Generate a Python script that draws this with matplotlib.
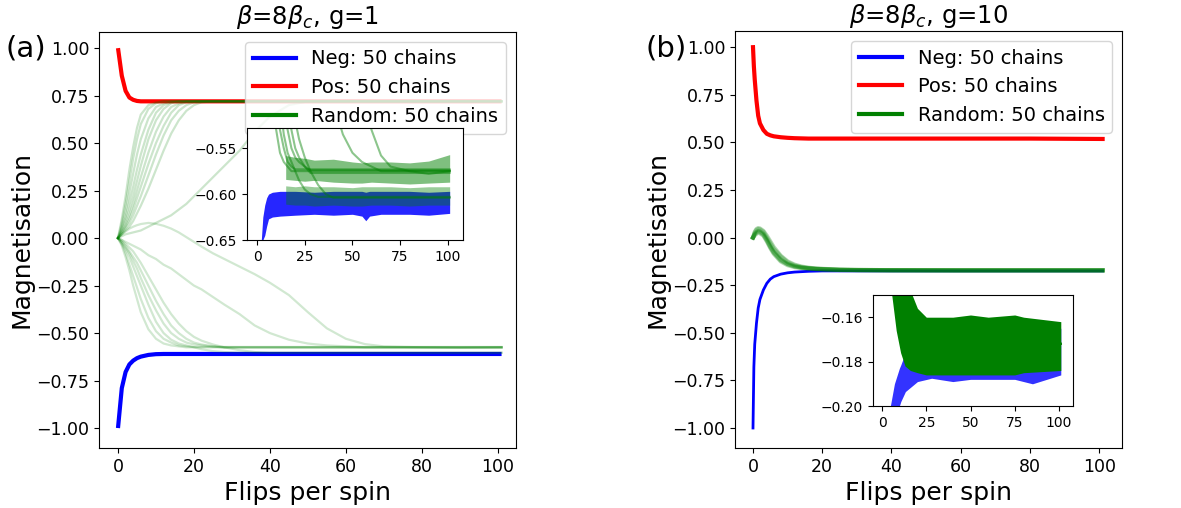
import matplotlib
matplotlib.use("Agg")
import matplotlib.pyplot as plt
import numpy as np

# ---------------- data: panel (a)  beta=8beta_c, g=1 ----------------
t_a = [0, 1, 2, 3, 4, 5, 6, 8, 10, 12, 14, 16, 18, 20, 22, 25, 28, 32, 36, 40,
       45, 50, 55, 60, 65, 70, 80, 90, 101]

neg_a = [-1.0, -0.79, -0.705, -0.665, -0.645, -0.632, -0.624, -0.615, -0.611, -0.61,
         -0.61, -0.61, -0.61, -0.61, -0.61, -0.61, -0.61, -0.61, -0.61, -0.61,
         -0.61, -0.61, -0.61, -0.61, -0.61, -0.61, -0.61, -0.61, -0.61]
pos_a = [1.0, 0.855, 0.775, 0.74, 0.728, 0.722, 0.72, 0.72, 0.72, 0.72,
         0.72, 0.72, 0.72, 0.72, 0.72, 0.72, 0.72, 0.72, 0.72, 0.72,
         0.72, 0.72, 0.72, 0.72, 0.72, 0.72, 0.72, 0.72, 0.72]

# random-start chains that end in the positive state
rand_pos_a = [
    [0, .10, .22, .36, .48, .58, .65, .70, .715, .72] + [.72] * 19,
    [0, .08, .18, .30, .42, .52, .60, .68, .71, .72] + [.72] * 19,
    [0, .06, .14, .24, .34, .44, .52, .63, .69, .71, .72] + [.72] * 18,
    [0, .05, .11, .19, .27, .36, .44, .57, .66, .70, .715, .72] + [.72] * 17,
    [0, .04, .09, .15, .22, .30, .38, .52, .62, .68, .71, .72] + [.72] * 17,
    [0, .03, .07, .12, .18, .25, .32, .45, .56, .64, .69, .71, .72] + [.72] * 16,
    [0, .03, .06, .10, .15, .21, .27, .39, .50, .59, .66, .70, .715, .72] + [.72] * 15,
    [0, .02, .05, .08, .12, .17, .22, .33, .44, .54, .62, .67, .70, .715, .72] + [.72] * 14,
    [0, .02, .04, .06, .09, .13, .17, .26, .36, .46, .55, .62, .67, .70, .715, .72] + [.72] * 13,
    [0, .01, .02, .025, .03, .035, .04, .06, .08, .10, .12, .15, .18, .22, .26, .32, .38,
     .46, .56, .64, .70, .72, .72, .72, .72, .72, .72, .72, .72],
]
# random-start chains that end in the negative state
rand_neg_a = [
    [0, -.04, -.10, -.17, -.25, -.32, -.39, -.48, -.53, -.555, -.565, -.57] + [-.575] * 17,
    [0, -.03, -.08, -.14, -.20, -.26, -.32, -.42, -.49, -.53, -.55, -.565, -.57] + [-.573] * 16,
    [0, -.03, -.06, -.10, -.15, -.20, -.25, -.35, -.44, -.50, -.535, -.555, -.565, -.575,
     -.585, -.595, -.60] + [-.603] * 12,
    [0, -.02, -.05, -.08, -.12, -.16, -.21, -.30, -.38, -.45, -.50, -.53, -.55, -.56, -.565,
     -.57] + [-.577] * 13,
    [0, -.02, -.04, -.07, -.10, -.13, -.17, -.25, -.33, -.40, -.46, -.50, -.53, -.55, -.56,
     -.57] + [-.574] * 13,
    [0, -.01, -.03, -.05, -.07, -.10, -.13, -.20, -.27, -.34, -.40, -.45, -.49, -.52, -.54,
     -.56, -.575, -.59, -.60] + [-.604] * 10,
    [0, -.01, -.02, -.03, -.04, -.05, -.06, -.09, -.11, -.14, -.16, -.19, -.22, -.25, -.27,
     -.31, -.35, -.40, -.46, -.50, -.535, -.555, -.565, -.57, -.575, -.575, -.575, -.575, -.575],
    [0, .02, .035, .05, .06, .068, .074, .08, .075, .065, .05, .03, .005, -.02, -.045,
     -.08, -.11, -.15, -.19, -.235, -.30, -.39, -.475, -.53, -.558, -.57, -.575, -.578, -.575],
]

# inset (a): envelopes of the noisy plateaus
ins_a_neg_t = [2.2, 3, 4, 5, 6, 8, 12, 20, 30, 40, 50, 55, 57, 59, 65, 80, 90, 101]
ins_a_neg_hi = [-0.65, -0.625, -0.612, -0.604, -0.600, -0.598, -0.597, -0.597, -0.598,
                -0.597, -0.597, -0.597, -0.598, -0.597, -0.597, -0.597, -0.598, -0.597]
ins_a_neg_lo = [-0.65, -0.65, -0.645, -0.635, -0.627, -0.625, -0.624, -0.623, -0.622,
                -0.623, -0.622, -0.624, -0.629, -0.624, -0.622, -0.622, -0.623, -0.621]
ins_a_grn_t = [15, 20, 25, 30, 40, 50, 55, 60, 70, 80, 90, 101]
ins_a_up_hi = [-0.558, -0.560, -0.561, -0.563, -0.562, -0.565, -0.566, -0.565, -0.565,
               -0.566, -0.564, -0.557]
ins_a_up_lo = [-0.584, -0.585, -0.586, -0.585, -0.587, -0.588, -0.588, -0.587, -0.588,
               -0.589, -0.588, -0.587]
ins_a_lo_hi = [-0.591, -0.592, -0.591, -0.592, -0.592, -0.593, -0.592, -0.592, -0.592,
               -0.593, -0.592, -0.592]
ins_a_lo_lo = [-0.611, -0.612, -0.612, -0.613, -0.612, -0.613, -0.613, -0.612, -0.612,
               -0.613, -0.612, -0.612]

# ---------------- data: panel (b)  beta=8beta_c, g=10 ----------------
t_b = [0, 0.25, 0.5, 1, 1.5, 2, 3, 4, 5, 6, 8, 10, 12, 14, 16, 18, 20, 25, 30, 40, 60, 80, 101]
neg_b = [-1.0, -0.68, -0.56, -0.45, -0.37, -0.325, -0.275, -0.24, -0.218, -0.205, -0.192,
         -0.185, -0.181, -0.179, -0.177, -0.176, -0.175, -0.175, -0.175, -0.175, -0.175,
         -0.175, -0.175]
pos_b = [1.0, 0.9, 0.83, 0.72, 0.64, 0.60, 0.565, 0.545, 0.537, 0.532, 0.527, 0.524,
         0.522, 0.521, 0.52, 0.52, 0.52, 0.52, 0.52, 0.52, 0.52, 0.52, 0.518]
rand_b = [
    [0, .015, .03, .045, .05, .048, .035, .01, -.02, -.05, -.095, -.125, -.142, -.152,
     -.158, -.162, -.164, -.168, -.17, -.171, -.172, -.172, -.172],
    [0, .01, .02, .03, .035, .033, .02, -.01, -.045, -.075, -.115, -.138, -.15, -.157,
     -.161, -.164, -.166, -.169, -.17, -.171, -.172, -.172, -.172],
    [0, .005, .012, .02, .025, .023, .01, -.02, -.055, -.085, -.125, -.145, -.155, -.16,
     -.163, -.165, -.167, -.17, -.171, -.172, -.172, -.172, -.172],
    [0, .012, .025, .04, .045, .043, .03, .0, -.03, -.06, -.10, -.13, -.146, -.155,
     -.16, -.163, -.165, -.169, -.17, -.171, -.172, -.172, -.172],
    [0, .008, .016, .025, .03, .028, .015, -.015, -.05, -.08, -.12, -.14, -.152, -.158,
     -.162, -.165, -.167, -.17, -.171, -.172, -.172, -.172, -.172],
]
ins_b_neg_t = [4.7, 7, 9.8, 10.6, 13.2, 20, 28, 40, 50, 60, 75, 85, 101]
ins_b_neg_hi = [-0.2, -0.19, -0.183, -0.1815, -0.176, -0.168, -0.166, -0.165, -0.165,
                -0.165, -0.165, -0.165, -0.165]
ins_b_neg_lo = [-0.2, -0.2, -0.2, -0.198, -0.1935, -0.189, -0.1875, -0.189, -0.188,
                -0.188, -0.188, -0.190, -0.186]
ins_b_grn_t = [5.5, 8, 10.5, 13, 16, 20, 25, 40, 50, 60, 75, 80, 101]
ins_b_grn_hi = [-0.145, -0.145, -0.145, -0.145, -0.148, -0.156, -0.160, -0.160, -0.159,
                -0.160, -0.159, -0.160, -0.162]
ins_b_grn_lo = [-0.150, -0.166, -0.176, -0.182, -0.184, -0.185, -0.186, -0.186, -0.186,
                -0.186, -0.186, -0.185, -0.184]

legend_labels = ["Neg: 50 chains", "Pos: 50 chains", "Random: 50 chains"]
titles = [r"$\beta$=8$\beta_c$, g=1", r"$\beta$=8$\beta_c$, g=10"]

# ---------------- drawing ----------------
W, H = 1181, 508
fig = plt.figure(figsize=(W / 100, H / 100), dpi=100)


def rect(l, t, r, b):
    return [l / W, 1 - b / H, (r - l) / W, (b - t) / H]


axa = fig.add_axes(rect(99, 32, 516, 448))
axb = fig.add_axes(rect(735, 31, 1122, 448))

# panel (a)
axa.plot(t_a, neg_a, color="blue", lw=3, solid_capstyle="butt")
axa.plot(t_a, pos_a, color="red", lw=3, solid_capstyle="butt")
for ch in rand_pos_a:
    axa.plot(t_a, ch, color="green", lw=1.6, alpha=0.2)
for ch in rand_neg_a:
    axa.plot(t_a, ch, color="green", lw=1.6, alpha=0.18)

# panel (b)
axb.plot(t_b, neg_b, color="blue", lw=2)
axb.plot(t_b, pos_b, color="red", lw=3)
for ch in rand_b:
    axb.plot(t_b, ch, color="green", lw=3, alpha=0.3)

for ax, title in [(axa, titles[0]), (axb, titles[1])]:
    ax.set_ylim(-1.105, 1.085)
    ax.set_yticks([-1.0, -0.75, -0.5, -0.25, 0.0, 0.25, 0.5, 0.75, 1.0])
    ax.set_xticks([0, 20, 40, 60, 80, 100])
    ax.tick_params(labelsize=12.5)
    ax.set_xlabel("Flips per spin", fontsize=18)
    ax.set_ylabel("Magnetisation", fontsize=18)
    ax.set_title(title, fontsize=17.5)
    h = [plt.Line2D([], [], color=c, lw=3) for c in ("blue", "red", "green")]
    ax.legend(h, legend_labels, loc="upper right", fontsize=14, handlelength=2.2)
axa.set_xlim(-5, 104.8)
axb.set_xlim(-5.2, 106.6)
axa.yaxis.set_label_coords((34 - 99) / 417, 0.5)
axb.yaxis.set_label_coords((670 - 735) / 387, 0.5)

fig.text(26 / W, 1 - 48 / H, "(a)", fontsize=21, ha="center", va="center")
fig.text(666 / W, 1 - 48 / H, "(b)", fontsize=21, ha="center", va="center")

# inset (a)
ia = fig.add_axes(rect(247, 128, 463, 240))
ia.set_zorder(10)
ia.fill_between(ins_a_neg_t, ins_a_neg_lo, ins_a_neg_hi, color="blue", alpha=0.85, lw=0)
for ch in rand_pos_a + rand_neg_a:
    ia.plot(t_a, ch, color="green", lw=1.5, alpha=0.45)
ia.fill_between(ins_a_grn_t, ins_a_up_lo, ins_a_up_hi, color="green", alpha=0.5, lw=0)
ia.fill_between(ins_a_grn_t, ins_a_lo_lo, ins_a_lo_hi, color="green", alpha=0.4, lw=0)
ia.set_xlim(-5.3, 108)
ia.set_ylim(-0.65, -0.528)
ia.set_yticks([-0.65, -0.60, -0.55])
ia.set_xticks([0, 25, 50, 75, 100])
ia.tick_params(labelsize=10)

# inset (b)
ib = fig.add_axes(rect(873, 295, 1073, 406))
ib.set_zorder(10)
ib.fill_between(ins_b_neg_t, ins_b_neg_lo, ins_b_neg_hi, color="blue", alpha=0.8, lw=0)
for ch in rand_b:
    ib.plot(t_b, ch, color="green", lw=1.5, alpha=0.5)
ib.fill_between(ins_b_grn_t, ins_b_grn_lo, ins_b_grn_hi, color="green", alpha=1.0, lw=0)
ib.set_xlim(-5.1, 107.9)
ib.set_ylim(-0.2, -0.15)
ib.set_yticks([-0.20, -0.18, -0.16])
ib.set_xticks([0, 25, 50, 75, 100])
ib.tick_params(labelsize=10)

fig.savefig("out.png", dpi=100)
